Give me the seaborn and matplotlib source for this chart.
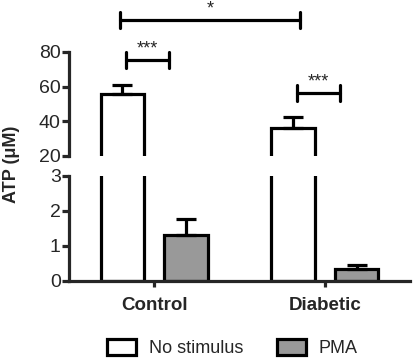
import numpy as np
import pandas as pd
import matplotlib
matplotlib.use("Agg")
import matplotlib.pyplot as plt
from matplotlib.patches import Patch
import seaborn as sns

# Data
groups = ["Control", "Diabetic"]
stimuli = ["No stimulus", "PMA"]
atp_no_stim = [56.0, 36.4]
atp_pma = [1.30, 0.33]
err_no_stim = [5.0, 6.3]
err_pma = [0.46, 0.13]

# significance brackets: (x_left, x_right, y, label) in top-axis data units
brackets = [(-0.20, 0.855, 98.5, "*"),
            (-0.165, 0.088, 75.4, "***"),
            (0.836, 1.088, 56.3, "***")]

df = pd.DataFrame({
    "group": groups * 2,
    "stim": [stimuli[0]] * 2 + [stimuli[1]] * 2,
    "atp": atp_no_stim + atp_pma,
    "err": err_no_stim + err_pma,
})

sns.set_style("ticks")
plt.rcParams["font.family"] = ["Liberation Sans", "DejaVu Sans"]

LW = 2.3
palette = {"No stimulus": "white", "PMA": "#999999"}

fig = plt.figure(figsize=(4.13, 3.59), dpi=100)
ax_top = fig.add_axes([69 / 413, 1 - 156 / 359, 341 / 413, 104 / 359])
ax_bot = fig.add_axes([69 / 413, 1 - 280.7 / 359, 341 / 413, 105 / 359])

for ax in (ax_top, ax_bot):
    sns.barplot(data=df, x="group", y="atp", hue="stim", order=groups,
                hue_order=stimuli, palette=palette, edgecolor="black",
                linewidth=LW, width=0.75, gap=0.32, errorbar=None,
                legend=False, ax=ax)
    # upper-only error bars, positioned from the drawn bars
    for p in ax.patches:
        h = p.get_height()
        row = df[np.isclose(df["atp"], h)]
        if row.empty:
            continue
        xc = p.get_x() + p.get_width() / 2
        ax.errorbar(xc, h, yerr=[[0], [row["err"].iloc[0]]], fmt="none",
                    ecolor="black", elinewidth=LW, capsize=7.5,
                    capthick=LW, zorder=1)
    ax.set_xlim(-0.5, 1.5)
    ax.set_xlabel("")
    ax.set_ylabel("")
    ax.spines["left"].set_linewidth(LW)
    ax.spines["bottom"].set_linewidth(LW)
    ax.tick_params(axis="y", width=LW, length=5, labelsize=14, pad=1)
    ax.tick_params(axis="x", width=LW, length=4, pad=8)

ax_top.set_ylim(20, 80)
ax_top.set_yticks([20, 40, 60, 80])
ax_top.spines["bottom"].set_visible(False)
ax_top.tick_params(axis="x", bottom=False, labelbottom=False)
sns.despine(ax=ax_top, bottom=True)

ax_bot.set_ylim(0, 3)
ax_bot.set_yticks([0, 1, 2, 3])
sns.despine(ax=ax_bot)
ax_bot.set_xticks([0, 1])
ax_bot.set_xticklabels(groups, fontsize=13.5, fontweight="bold")

# significance brackets
for x0, x1, y, lab in brackets:
    ax_top.plot([x0, x1], [y, y], color="black", lw=LW, clip_on=False)
    for xx in (x0, x1):
        ax_top.plot([xx, xx], [y - 4.6, y + 4.6], color="black", lw=LW,
                    clip_on=False)
    ax_top.text((x0 + x1) / 2, y + 1.5, lab, ha="center", va="bottom",
                fontsize=13, clip_on=False)

fig.text(0.027, 0.543, "ATP (\u03bcM)", rotation=90, ha="center",
         va="center", fontsize=13, fontweight="bold")

handles = [Patch(facecolor=palette[s], edgecolor="black", linewidth=LW,
                 label=s) for s in stimuli]
fig.legend(handles=handles, loc="center", bbox_to_anchor=(0.563, 0.031),
           ncol=2, frameon=False, fontsize=13, handlelength=1.6,
           handleheight=1.05, handletextpad=0.7, columnspacing=1.9,
           borderpad=0)

fig.savefig("out.png", dpi=100)
